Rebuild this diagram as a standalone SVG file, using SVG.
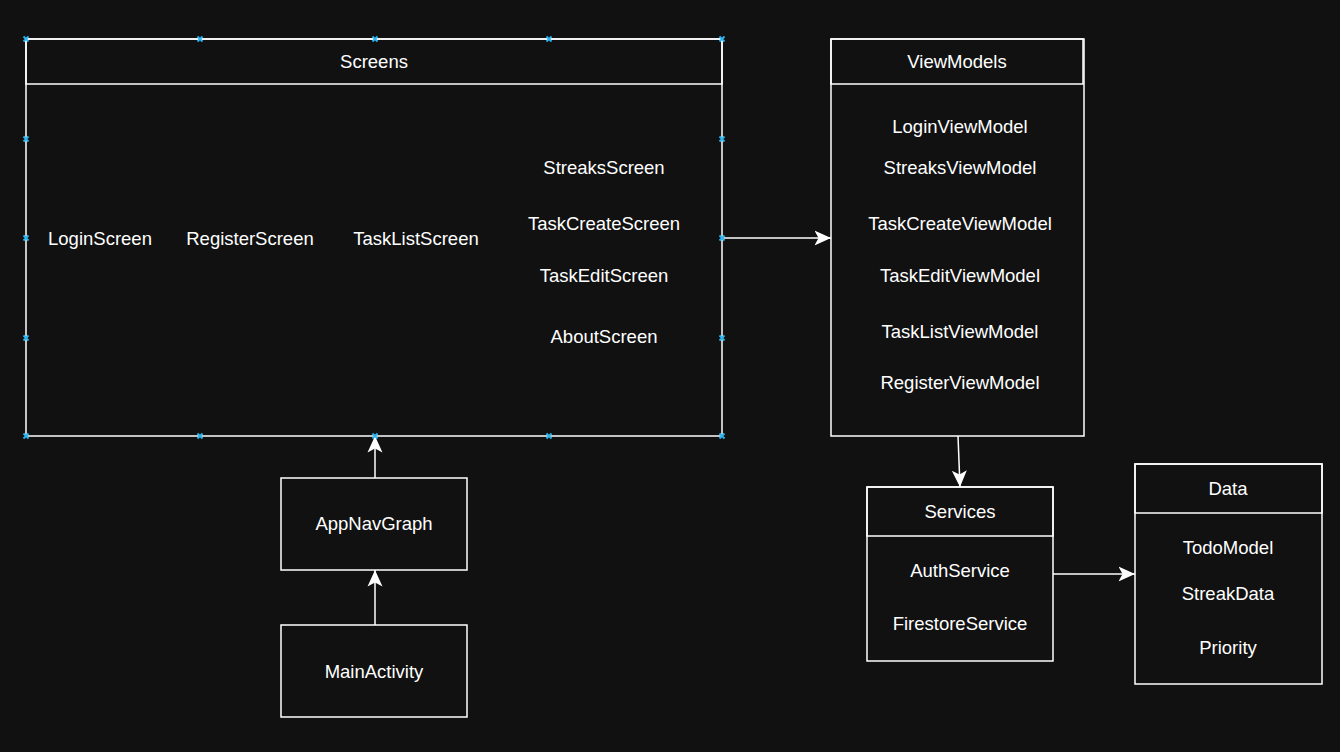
<svg xmlns="http://www.w3.org/2000/svg" width="1340" height="752" viewBox="0 0 1340 752">
<style>
.box{fill:none;stroke:#ffffff;stroke-width:1.5}
.t{font-family:"Liberation Sans",Arial,sans-serif;font-size:18.5px;fill:#ffffff;text-anchor:middle}
.edge{fill:none;stroke:#ffffff;stroke-width:1.5}
.hd{fill:none;stroke:#29b6f2;stroke-width:1.8}
</style>
<defs>
<marker id="arr" viewBox="0 0 17 16" refX="16.5" refY="8" markerWidth="17" markerHeight="16" markerUnits="userSpaceOnUse" orient="auto">
<path d="M16.5,8 L0,0.5 L4,8 L0,15.5 Z" fill="#ffffff"/>
</marker>
<path id="x" d="M-2.5,-2.5 L2.5,2.5 M-2.5,2.5 L2.5,-2.5" class="hd"/>
</defs>
<rect width="1340" height="752" fill="#111111"/>

<g id="screens">
<rect class="box" x="26" y="39" width="696" height="397"/>
<rect class="box" x="26" y="39" width="696" height="45"/>
<text class="t" x="374" y="67.5">Screens</text>
<text class="t" x="100" y="244.5">LoginScreen</text>
<text class="t" x="250" y="244.5">RegisterScreen</text>
<text class="t" x="416" y="244.5">TaskListScreen</text>
<text class="t" x="604" y="173.5">StreaksScreen</text>
<text class="t" x="604" y="229.5">TaskCreateScreen</text>
<text class="t" x="604" y="281.5">TaskEditScreen</text>
<text class="t" x="604" y="342.5">AboutScreen</text>
</g>

<g id="viewmodels">
<rect class="box" x="831" y="39" width="253" height="397"/>
<rect class="box" x="831" y="39" width="252" height="45"/>
<text class="t" x="957" y="67.5">ViewModels</text>
<text class="t" x="960" y="132.5">LoginViewModel</text>
<text class="t" x="960" y="173.5">StreaksViewModel</text>
<text class="t" x="960" y="229.5">TaskCreateViewModel</text>
<text class="t" x="960" y="281.5">TaskEditViewModel</text>
<text class="t" x="960" y="337.5">TaskListViewModel</text>
<text class="t" x="960" y="388.5">RegisterViewModel</text>
</g>

<g id="appnavgraph">
<rect class="box" x="281" y="478" width="186" height="92"/>
<text class="t" x="374" y="529.5">AppNavGraph</text>
</g>

<g id="mainactivity">
<rect class="box" x="281" y="625" width="186" height="92"/>
<text class="t" x="374" y="677.5">MainActivity</text>
</g>

<g id="services">
<rect class="box" x="867" y="487" width="186" height="174"/>
<rect class="box" x="867" y="487" width="186" height="49"/>
<text class="t" x="960" y="517.5">Services</text>
<text class="t" x="960" y="576.5">AuthService</text>
<text class="t" x="960" y="629.5">FirestoreService</text>
</g>

<g id="data">
<rect class="box" x="1135" y="464" width="187" height="220"/>
<rect class="box" x="1135" y="464" width="187" height="49"/>
<text class="t" x="1228" y="494.5">Data</text>
<text class="t" x="1228" y="553.5">TodoModel</text>
<text class="t" x="1228" y="599.5">StreakData</text>
<text class="t" x="1228" y="653.5">Priority</text>
</g>

<g id="connectors">
<path class="edge" d="M722,238 L831,238" marker-end="url(#arr)"/>
<path class="edge" d="M958,436 L960,487" marker-end="url(#arr)"/>
<path class="edge" d="M1053,574 L1135,574" marker-end="url(#arr)"/>
<path class="edge" d="M375,478 L375,436" marker-end="url(#arr)"/>
<path class="edge" d="M375,625 L375,570" marker-end="url(#arr)"/>
</g>

<g id="handles">
<use href="#x" x="26" y="39"/>
<use href="#x" x="200" y="39"/>
<use href="#x" x="375" y="39"/>
<use href="#x" x="549" y="39"/>
<use href="#x" x="722" y="39"/>
<use href="#x" x="26" y="139"/>
<use href="#x" x="722" y="139"/>
<use href="#x" x="26" y="238"/>
<use href="#x" x="722" y="238"/>
<use href="#x" x="26" y="338"/>
<use href="#x" x="722" y="338"/>
<use href="#x" x="26" y="436"/>
<use href="#x" x="200" y="436"/>
<use href="#x" x="375" y="436"/>
<use href="#x" x="549" y="436"/>
<use href="#x" x="722" y="436"/>
</g>
</svg>
